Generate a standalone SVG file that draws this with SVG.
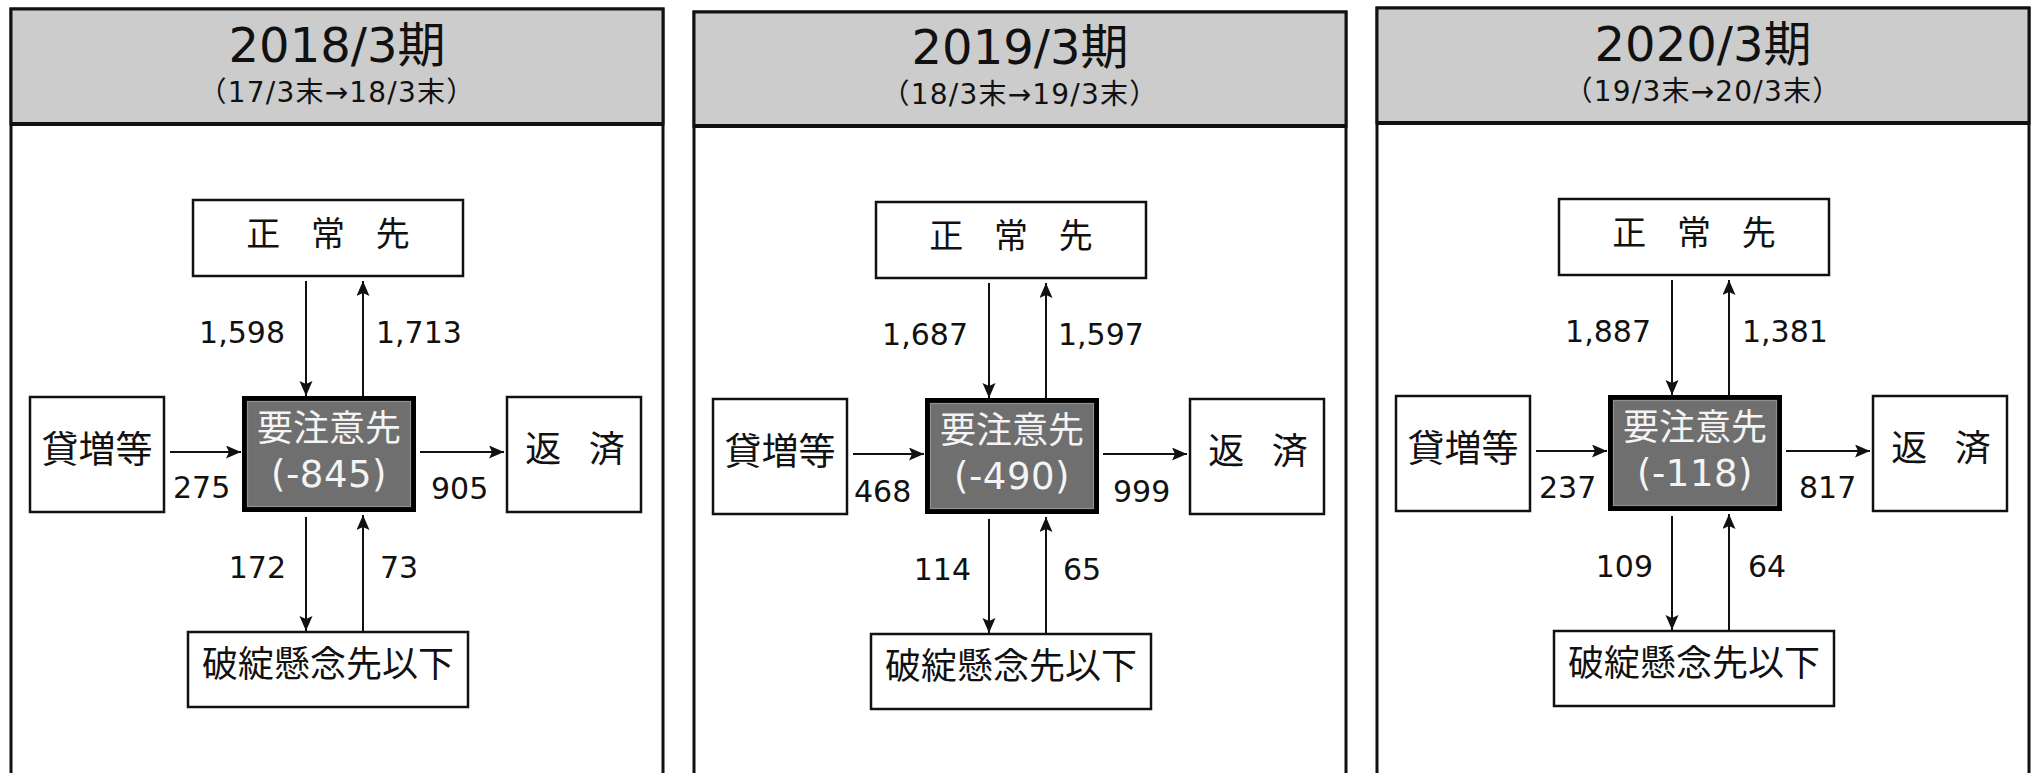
<svg xmlns="http://www.w3.org/2000/svg" width="2035" height="773" viewBox="0 0 2035 773">
<style>
text{font-family:"DejaVu Sans","Noto Sans CJK JP",sans-serif;fill:#111;}
.frame{fill:#fff;stroke:#111;stroke-width:3;}
.head{fill:#cccccc;stroke:#111;stroke-width:3;}
.hline{stroke:#111;stroke-width:4;}
.box{fill:#fff;stroke:#111;stroke-width:2.5;}
.core{fill:#6f6f6f;stroke:#000;stroke-width:5;}
.coreIn{fill:none;stroke:#8f8f8f;stroke-width:1.2;}
.title{font-size:48px;text-anchor:middle;}
.sub{font-size:28px;text-anchor:middle;letter-spacing:1.2px;}
.lbl{font-size:34px;text-anchor:middle;}
.lbl2{font-size:37px;text-anchor:middle;}
.coreT{font-size:36px;text-anchor:middle;fill:#f4f4f4;}
.coreN{font-size:37px;text-anchor:middle;fill:#f4f4f4;letter-spacing:0.5px;}
.num{font-size:30px;}
.end{text-anchor:end;}
.arr{stroke:#111;stroke-width:2;fill:none;marker-end:url(#ah);}
</style>
<defs>
<marker id="ah" markerUnits="userSpaceOnUse" markerWidth="16" markerHeight="14" refX="15" refY="6.5" orient="auto">
<path d="M0,0 L15,6.5 L0,13 L3,6.5 z" fill="#111"/>
</marker>
</defs>
<rect width="2035" height="773" fill="#fff"/>

<g id="panel-2018" transform="translate(0,0)">
<g id="frame-2018">
<rect class="frame" x="11" y="9" width="652" height="790"/>
<rect class="head" x="11" y="9" width="652" height="115"/>
<line class="hline" x1="11" y1="124" x2="663" y2="124"/>
<text class="title" x="337" y="62">2018/3期</text>
<text class="sub" x="337" y="102">（17/3末→18/3末）</text>
</g>
<g id="node-seijo-2018"><rect class="box" x="193" y="200" width="270" height="76"/><text class="lbl" x="328" y="246" word-spacing="20">正 常 先</text></g>
<g id="node-yochui-2018"><rect class="core" x="244.5" y="398.5" width="169" height="111"/><rect class="coreIn" x="247.5" y="401.5" width="163" height="105"/><text class="coreT" x="329" y="441">要注意先</text><text class="coreN" x="329" y="487">(-845)</text></g>
<g id="node-kashi-2018"><rect class="box" x="30" y="397" width="134" height="115"/><text class="lbl2" x="97" y="463">貸増等</text></g>
<g id="node-hensai-2018"><rect class="box" x="507" y="397" width="134" height="115"/><text class="lbl" x="575" y="462" style="font-size:36px" word-spacing="16">返 済</text></g>
<g id="node-hatan-2018"><rect class="box" x="188" y="632" width="280" height="75"/><text class="lbl" x="328" y="677" style="font-size:36px">破綻懸念先以下</text></g>
<g id="connectors-2018">
<line class="arr" x1="306" y1="281" x2="306" y2="396"/>
<line class="arr" x1="363" y1="396" x2="363" y2="281"/>
<line class="arr" x1="170" y1="452" x2="241" y2="452"/>
<line class="arr" x1="420" y1="452" x2="504" y2="452"/>
<line class="arr" x1="306" y1="517" x2="306" y2="631"/>
<line class="arr" x1="363" y1="632" x2="363" y2="515"/>
<text class="num end" x="285" y="343">1,598</text>
<text class="num" x="376" y="343">1,713</text>
<text class="num" x="173" y="498">275</text>
<text class="num" x="431" y="499">905</text>
<text class="num end" x="286" y="578">172</text>
<text class="num" x="380" y="578">73</text>
</g>
</g>

<g id="panel-2019" transform="translate(683,2)">
<g id="frame-2019">
<rect class="frame" x="11" y="10" width="652" height="790"/>
<rect class="head" x="11" y="10" width="652" height="114"/>
<line class="hline" x1="11" y1="124" x2="663" y2="124"/>
<text class="title" x="337" y="62">2019/3期</text>
<text class="sub" x="337" y="102">（18/3末→19/3末）</text>
</g>
<g id="node-seijo-2019"><rect class="box" x="193" y="200" width="270" height="76"/><text class="lbl" x="328" y="246" word-spacing="20">正 常 先</text></g>
<g id="node-yochui-2019"><rect class="core" x="244.5" y="398.5" width="169" height="111"/><rect class="coreIn" x="247.5" y="401.5" width="163" height="105"/><text class="coreT" x="329" y="441">要注意先</text><text class="coreN" x="329" y="487">(-490)</text></g>
<g id="node-kashi-2019"><rect class="box" x="30" y="397" width="134" height="115"/><text class="lbl2" x="97" y="463">貸増等</text></g>
<g id="node-hensai-2019"><rect class="box" x="507" y="397" width="134" height="115"/><text class="lbl" x="575" y="462" style="font-size:36px" word-spacing="16">返 済</text></g>
<g id="node-hatan-2019"><rect class="box" x="188" y="632" width="280" height="75"/><text class="lbl" x="328" y="677" style="font-size:36px">破綻懸念先以下</text></g>
<g id="connectors-2019">
<line class="arr" x1="306" y1="281" x2="306" y2="396"/>
<line class="arr" x1="363" y1="396" x2="363" y2="281"/>
<line class="arr" x1="170" y1="452" x2="241" y2="452"/>
<line class="arr" x1="420" y1="452" x2="504" y2="452"/>
<line class="arr" x1="306" y1="517" x2="306" y2="631"/>
<line class="arr" x1="363" y1="632" x2="363" y2="515"/>
<text class="num end" x="285" y="343">1,687</text>
<text class="num" x="375" y="343">1,597</text>
<text class="num" x="171" y="500">468</text>
<text class="num" x="430" y="500">999</text>
<text class="num end" x="288" y="578">114</text>
<text class="num" x="380" y="578">65</text>
</g>
</g>

<g id="panel-2020" transform="translate(1366,-1)">
<g id="frame-2020">
<rect class="frame" x="11" y="9" width="652" height="790"/>
<rect class="head" x="11" y="9" width="652" height="115"/>
<line class="hline" x1="11" y1="124" x2="663" y2="124"/>
<text class="title" x="337" y="62">2020/3期</text>
<text class="sub" x="337" y="102">（19/3末→20/3末）</text>
</g>
<g id="node-seijo-2020"><rect class="box" x="193" y="200" width="270" height="76"/><text class="lbl" x="328" y="246" word-spacing="20">正 常 先</text></g>
<g id="node-yochui-2020"><rect class="core" x="244.5" y="398.5" width="169" height="111"/><rect class="coreIn" x="247.5" y="401.5" width="163" height="105"/><text class="coreT" x="329" y="441">要注意先</text><text class="coreN" x="329" y="487">(-118)</text></g>
<g id="node-kashi-2020"><rect class="box" x="30" y="397" width="134" height="115"/><text class="lbl2" x="97" y="463">貸増等</text></g>
<g id="node-hensai-2020"><rect class="box" x="507" y="397" width="134" height="115"/><text class="lbl" x="575" y="462" style="font-size:36px" word-spacing="16">返 済</text></g>
<g id="node-hatan-2020"><rect class="box" x="188" y="632" width="280" height="75"/><text class="lbl" x="328" y="677" style="font-size:36px">破綻懸念先以下</text></g>
<g id="connectors-2020">
<line class="arr" x1="306" y1="281" x2="306" y2="396"/>
<line class="arr" x1="363" y1="396" x2="363" y2="281"/>
<line class="arr" x1="170" y1="452" x2="241" y2="452"/>
<line class="arr" x1="420" y1="452" x2="504" y2="452"/>
<line class="arr" x1="306" y1="517" x2="306" y2="631"/>
<line class="arr" x1="363" y1="632" x2="363" y2="515"/>
<text class="num end" x="285" y="343">1,887</text>
<text class="num" x="376" y="343">1,381</text>
<text class="num" x="173" y="499">237</text>
<text class="num" x="433" y="499">817</text>
<text class="num end" x="287" y="578">109</text>
<text class="num" x="382" y="578">64</text>
</g>
</g>
</svg>
